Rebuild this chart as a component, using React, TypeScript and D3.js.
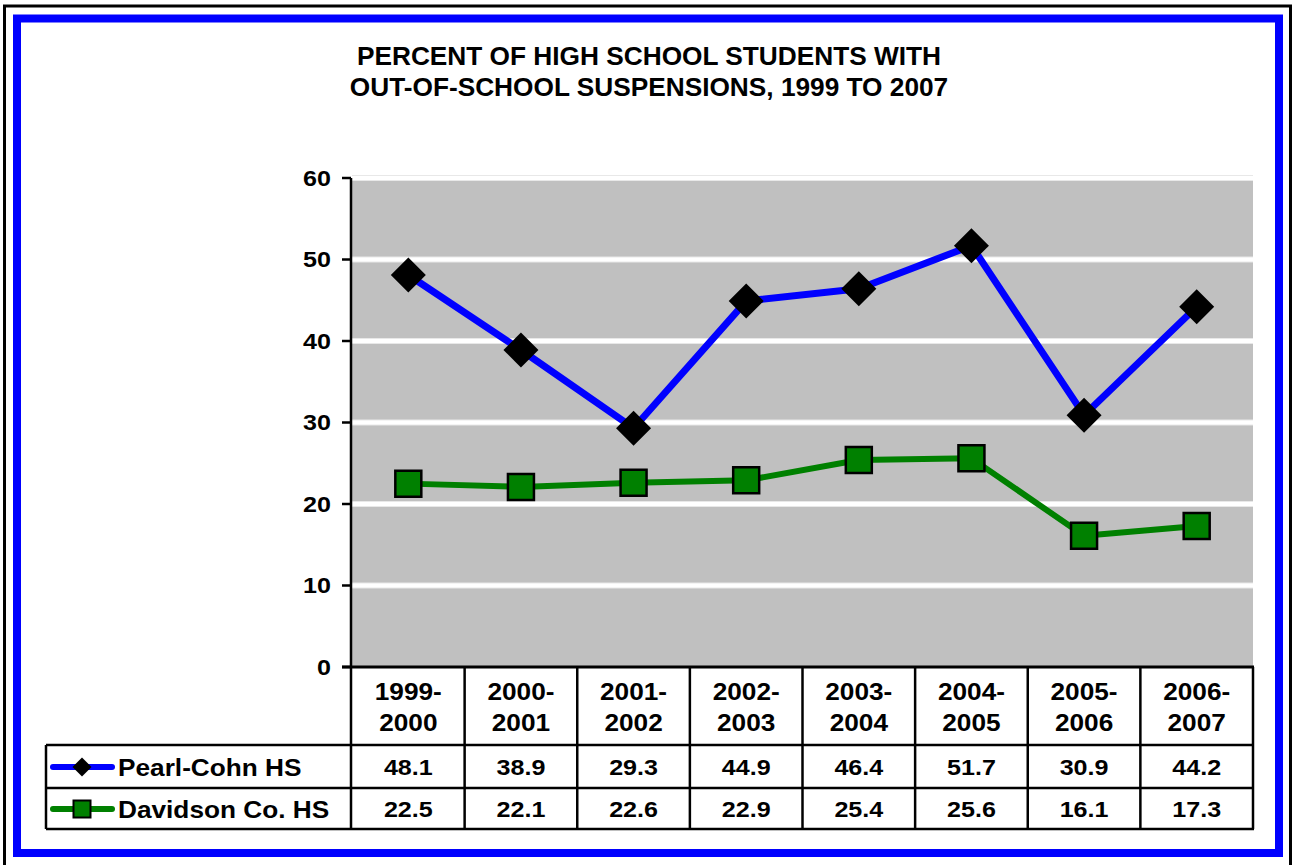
import { scaleBand, scaleLinear, line, symbol, symbolSquare } from 'd3';

const categories = ['1999-2000', '2000-2001', '2001-2002', '2002-2003', '2003-2004', '2004-2005', '2005-2006', '2006-2007'];
const pearlCohn = [48.1, 38.9, 29.3, 44.9, 46.4, 51.7, 30.9, 44.2];
const davidson = [22.5, 22.1, 22.6, 22.9, 25.4, 25.6, 16.1, 17.3];
const yTicks = [0, 10, 20, 30, 40, 50, 60];
const titleLines = ['PERCENT OF HIGH SCHOOL STUDENTS WITH', 'OUT-OF-SCHOOL SUSPENSIONS, 1999 TO 2007'];
const seriesNames = ['Pearl-Cohn HS', 'Davidson Co. HS'];

const W = 1294;
const H = 865;
const FONT = '"Liberation Sans", Arial, Helvetica, sans-serif';
const SX = 1.14; // the original text is a bit wider than Arial

// text drawn at (x,y) and stretched horizontally
function T({ x, y, size, anchor = 'start', sx = SX, children }: { x: number; y: number; size: number; anchor?: string; sx?: number; children: any }) {
  return (
    <text transform={`translate(${x},${y}) scale(${sx},1)`} textAnchor={anchor} fontSize={size} fill="#000">{children}</text>
  );
}

export default function App() {
  const x = scaleBand<string>().domain(categories).range([352, 1253]).padding(0);
  const y = scaleLinear().domain([0, 60]).range([667, 178]);
  const cx = (c: string) => (x(c) ?? 0) + x.bandwidth() / 2;

  const pathOf = line<number>()
    .x((_, i) => cx(categories[i]))
    .y(d => y(d));

  const diamond = symbol().type(symbolSquare).size(612)();
  const square = symbol().type(symbolSquare).size(26 * 26)();
  const legDiamond = symbol().type(symbolSquare).size(180)();
  const legSquare = symbol().type(symbolSquare).size(17 * 17)();

  const rowTop = 745, rowMid = 788, rowBot = 829;
  const tableLeft = 46;
  const tableRight = 1254;

  const series = [
    { name: seriesNames[0], values: pearlCohn, color: '#0000ff', width: 7 },
    { name: seriesNames[1], values: davidson, color: '#008000', width: 6 },
  ];

  return (
    <div style={{ position: 'fixed', left: 0, top: 0 }}>
      <svg width={W} height={H} style={{ display: 'block', background: '#fff' }} fontFamily={FONT} fontWeight="bold">
        {/* frames */}
        <rect x={4.5} y={6} width={1286} height={870} fill="none" stroke="#000" strokeWidth={3} />
        <rect x={17} y={18.5} width={1262} height={834.5} fill="none" stroke="#0000ff" strokeWidth={8} />

        {/* title */}
        {titleLines.map((t, i) => (
          <T key={t} x={649} y={65 + i * 31} anchor="middle" size={25} sx={1.05}>{t}</T>
        ))}

        {/* plot area */}
        <rect x={352} y={y(60)} width={1253 - 352} height={y(0) - y(60)} fill="#c0c0c0" />
        {yTicks.filter(t => t > 0).map(t => (
          <g key={t}>
            <line x1={352} x2={1253} y1={y(t)} y2={y(t)} stroke="#e8e8e8" strokeWidth={6} />
            <line x1={352} x2={1253} y1={y(t)} y2={y(t)} stroke="#fff" strokeWidth={4} />
          </g>
        ))}

        {/* y axis */}
        <line x1={351} x2={351} y1={y(60)} y2={rowBot} stroke="#000" strokeWidth={2.5} />
        {yTicks.map(t => (
          <g key={t}>
            <line x1={342} x2={351} y1={y(t)} y2={y(t)} stroke="#000" strokeWidth={2.5} />
            <T x={331} y={y(t) + 7.5} anchor="end" size={22}>{t}</T>
          </g>
        ))}

        {/* table */}
        <line x1={342} x2={tableRight} y1={y(0)} y2={y(0)} stroke="#000" strokeWidth={3} />
        {[rowTop, rowMid, rowBot].map(r => (
          <line key={r} x1={tableLeft} x2={tableRight} y1={r} y2={r} stroke="#000" strokeWidth={2.5} />
        ))}
        <line x1={tableLeft} x2={tableLeft} y1={rowTop} y2={rowBot} stroke="#000" strokeWidth={2.5} />
        {categories.map(c => (
          <line key={c} x1={(x(c) ?? 0) + x.bandwidth()} x2={(x(c) ?? 0) + x.bandwidth()} y1={y(0)} y2={rowBot} stroke="#000" strokeWidth={2.5} />
        ))}
        {categories.map(c => {
          const [a, b] = c.split('-');
          return (
            <g key={c}>
              <T x={cx(c)} y={700} anchor="middle" size={23}>{a}-</T>
              <T x={cx(c)} y={731} anchor="middle" size={23}>{b}</T>
            </g>
          );
        })}
        {series.map((s, si) => (
          <g key={s.name}>
            {s.values.map((v, i) => (
              <T key={i} x={cx(categories[i])} y={si === 0 ? 775 : 817} anchor="middle" size={22}>{v.toFixed(1)}</T>
            ))}
          </g>
        ))}

        {/* legend */}
        {series.map((s, si) => {
          const ly = si === 0 ? 767 : 809;
          return (
            <g key={s.name}>
              <line x1={53} x2={112} y1={ly} y2={ly} stroke={s.color} strokeWidth={6} strokeLinecap="round" />
              {si === 0
                ? <path d={legDiamond} transform={`translate(82,${ly}) rotate(45)`} fill="#000" />
                : <path d={legSquare} transform={`translate(82,${ly})`} fill="#008000" stroke="#000" strokeWidth={2} />}
              <T x={118} y={ly + 9} size={23}>{s.name}</T>
            </g>
          );
        })}

        {/* series lines */}
        {series.map(s => (
          <path key={s.name} d={pathOf(s.values) ?? ''} fill="none" stroke={s.color} strokeWidth={s.width} strokeLinejoin="round" />
        ))}
        {pearlCohn.map((v, i) => (
          <path key={i} d={diamond} transform={`translate(${cx(categories[i])},${y(v)}) rotate(45)`} fill="#000" />
        ))}
        {davidson.map((v, i) => (
          <path key={i} d={square} transform={`translate(${cx(categories[i])},${y(v)})`} fill="#008000" stroke="#000" strokeWidth={2.5} />
        ))}
      </svg>
    </div>
  );
}
